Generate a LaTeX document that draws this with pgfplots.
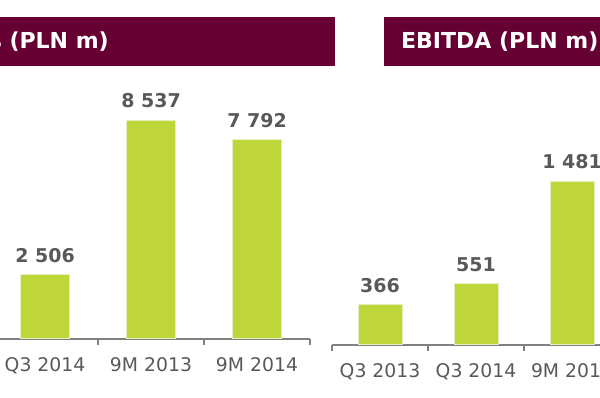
\documentclass[border=0pt]{standalone}
\usepackage{pgfplots}
\pgfplotsset{compat=1.18}
\usepackage{fontspec}
\setmainfont{DejaVu Sans}
\definecolor{titlebg}{HTML}{660033}
\definecolor{barg}{HTML}{BFD63B}
\definecolor{baredge}{HTML}{E6EFC0}
\definecolor{txtg}{HTML}{595959}
\definecolor{axg}{HTML}{808080}
\pgfplotsset{mystyle/.style={
  scale only axis, clip=false,
  axis x line*=bottom, axis y line=none, ytick=\empty,
  ymin=0, xmin=-0.5, xmax=3.5,
  xtick={-0.5,0.5,1.5,2.5,3.5},
  x tick label as interval,
  xticklabels={Q3 2013,Q3 2014,9M 2013,9M 2014},
  tick align=outside, major tick length=6pt,
  x axis line style={axg, line width=2pt},
  xtick style={axg, line width=1.5pt},
  xticklabel style={text=txtg, font=\fontsize{18.8}{20}\selectfont, yshift=-9pt},
  ybar, nodes near coords,
  every node near coord/.append style={text=txtg, font=\fontsize{19}{20}\selectfont\bfseries, yshift=8pt},
  /pgf/number format/1000 sep={\ },
  /pgf/number format/assume math mode=true,
}}
\begin{document}
\begin{tikzpicture}[x=1pt,y=1pt]
\path[use as bounding box, clip] (0,0) rectangle (600,398);
\fill[titlebg] (-50,332) rectangle (335,381);
\node[anchor=base east, inner sep=0, text=white, font=\fontsize{22}{24}\selectfont\bfseries] at (109,349) {Revenues (PLN m)};
\fill[titlebg] (384,332) rectangle (700,381);
\node[anchor=base west, inner sep=0, text=white, font=\fontsize{22}{24}\selectfont\bfseries] at (401,349) {EBITDA (PLN m)};
\begin{axis}[mystyle, at={(-114pt,59pt)}, anchor=south west, width=424pt, height=256.5pt, ymax=10000, bar width=49pt]
\addplot[fill=barg, draw=baredge, line width=1pt] coordinates {(1,2506) (2,8537) (3,7792)};
\end{axis}
\begin{axis}[mystyle, at={(332pt,53pt)}, anchor=south west, width=384pt, height=221.4pt, ymax=2000, bar width=44pt]
\addplot[fill=barg, draw=baredge, line width=1pt] coordinates {(0,366) (1,551) (2,1481)};
\end{axis}
\end{tikzpicture}
\end{document}
